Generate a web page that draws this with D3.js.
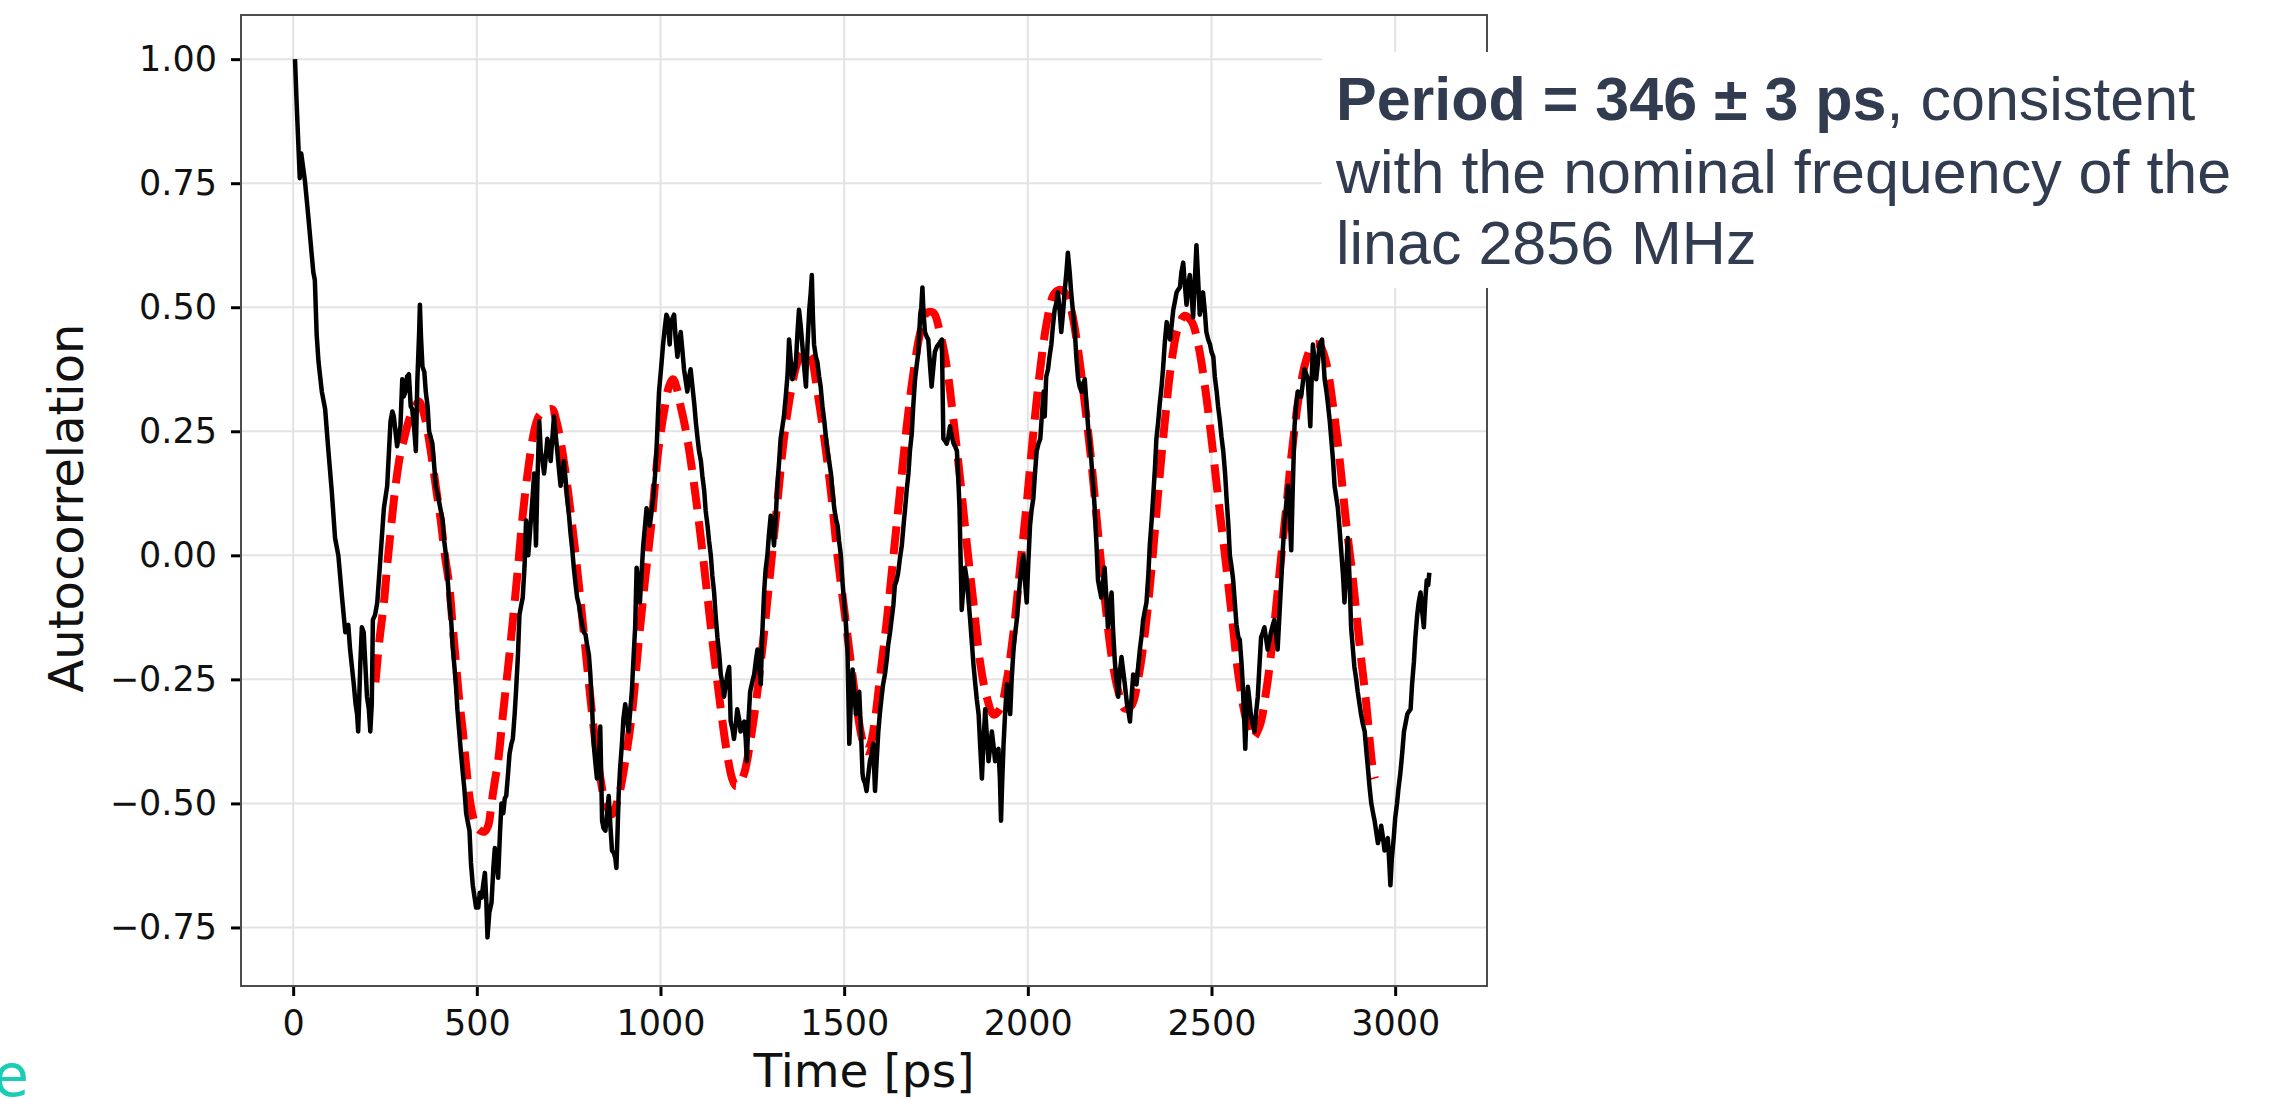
<!DOCTYPE html>
<html>
<head>
<meta charset="utf-8">
<script src="https://cdn.jsdelivr.net/npm/d3@7.9.0/dist/d3.min.js"></script>
<style>
  html, body { margin: 0; padding: 0; background: #fff; }
  svg { display: block; }
</style>
</head>
<body>
<script>
// ─── DATA ────────────────────────────────────────────────────────────────────
const blackTime = [
  5, 9, 14, 18, 22, 32, 41, 50, 55, 59, 64, 69, 78, 87, 96, 105, 114, 123, 133, 142,
  150, 155, 165, 170, 174, 177, 183, 187, 192, 201, 206, 210, 214, 217, 223, 229, 238, 247, 256, 265,
  270, 274, 283, 292, 297, 301, 306, 310, 315, 320, 324, 330, 334, 338, 343, 345, 348, 352, 357, 361,
  366, 370, 379, 384, 388, 393, 398, 407, 411, 416, 425, 430, 434, 443, 447, 452, 457, 462, 466, 471,
  476, 480, 484, 489, 494, 498, 504, 508, 513, 518, 522, 526, 529, 534, 540, 545, 549, 554, 558, 563,
  567, 572, 576, 580, 585, 589, 594, 598, 603, 607, 612, 616, 621, 625, 630, 634, 637, 640, 644, 647,
  652, 656, 661, 665, 670, 674, 679, 683, 688, 692, 697, 701, 706, 710, 715, 719, 724, 728, 733, 737,
  742, 746, 751, 755, 760, 764, 769, 773, 778, 782, 787, 791, 796, 800, 805, 809, 814, 818, 823, 827,
  832, 836, 841, 845, 850, 855, 859, 864, 868, 873, 877, 880, 883, 886, 890, 895, 899, 904, 909, 913,
  918, 922, 927, 931, 935, 940, 944, 949, 953, 958, 962, 967, 971, 976, 980, 985, 989, 993, 996, 1002,
  1007, 1012, 1016, 1019, 1025, 1028, 1034, 1037, 1041, 1046, 1050, 1055, 1060, 1064, 1069, 1073, 1078, 1082, 1087, 1092,
  1096, 1101, 1105, 1110, 1114, 1119, 1123, 1128, 1132, 1137, 1141, 1146, 1150, 1155, 1160, 1164, 1169, 1173, 1178, 1182,
  1187, 1191, 1196, 1200, 1205, 1209, 1214, 1218, 1223, 1228, 1232, 1235, 1239, 1244, 1250, 1255, 1260, 1264, 1268, 1273,
  1277, 1282, 1286, 1291, 1295, 1300, 1305, 1309, 1314, 1318, 1323, 1327, 1332, 1336, 1341, 1346, 1350, 1355, 1359, 1364,
  1368, 1373, 1377, 1382, 1386, 1391, 1396, 1400, 1405, 1409, 1412, 1415, 1418, 1423, 1427, 1432, 1436, 1441, 1446, 1450,
  1455, 1459, 1464, 1468, 1473, 1477, 1482, 1486, 1491, 1495, 1500, 1505, 1509, 1514, 1518, 1523, 1527, 1532, 1537, 1541,
  1546, 1550, 1552, 1557, 1561, 1566, 1570, 1575, 1579, 1584, 1588, 1593, 1597, 1602, 1606, 1611, 1616, 1620, 1625, 1629,
  1634, 1638, 1643, 1647, 1652, 1657, 1661, 1666, 1670, 1675, 1679, 1684, 1688, 1693, 1697, 1702, 1707, 1710, 1713, 1716,
  1720, 1725, 1729, 1734, 1738, 1743, 1747, 1752, 1757, 1762, 1766, 1770, 1775, 1779, 1784, 1788, 1793, 1798, 1802, 1807,
  1811, 1814, 1820, 1825, 1829, 1834, 1838, 1843, 1848, 1852, 1857, 1861, 1866, 1870, 1875, 1879, 1884, 1888, 1893, 1897,
  1902, 1906, 1911, 1915, 1920, 1924, 1927, 1930, 1934, 1938, 1943, 1947, 1952, 1956, 1961, 1965, 1970, 1974, 1979, 1983,
  1988, 1992, 1997, 2001, 2006, 2010, 2015, 2019, 2024, 2029, 2034, 2038, 2043, 2046, 2050, 2055, 2059, 2064, 2068, 2073,
  2078, 2082, 2087, 2091, 2096, 2100, 2105, 2109, 2114, 2118, 2123, 2128, 2132, 2137, 2141, 2146, 2150, 2155, 2160, 2164,
  2169, 2173, 2178, 2182, 2187, 2191, 2196, 2200, 2205, 2209, 2214, 2218, 2223, 2228, 2232, 2237, 2241, 2246, 2250, 2255,
  2260, 2264, 2270, 2275, 2278, 2283, 2287, 2291, 2296, 2301, 2305, 2310, 2314, 2319, 2323, 2328, 2332, 2337, 2341, 2346,
  2350, 2355, 2359, 2364, 2368, 2373, 2378, 2382, 2387, 2391, 2396, 2400, 2405, 2409, 2414, 2418, 2423, 2427, 2432, 2436,
  2441, 2446, 2450, 2455, 2459, 2464, 2468, 2473, 2477, 2482, 2486, 2491, 2496, 2500, 2505, 2509, 2514, 2518, 2523, 2527,
  2532, 2537, 2541, 2546, 2550, 2555, 2559, 2564, 2568, 2573, 2577, 2582, 2585, 2589, 2592, 2596, 2599, 2603, 2607, 2612,
  2617, 2621, 2626, 2630, 2635, 2640, 2644, 2649, 2653, 2658, 2662, 2667, 2671, 2676, 2680, 2685, 2690, 2694, 2699, 2703,
  2708, 2713, 2717, 2721, 2726, 2730, 2735, 2740, 2744, 2749, 2753, 2758, 2762, 2766, 2769, 2772, 2776, 2781, 2785, 2790,
  2794, 2801, 2805, 2808, 2813, 2817, 2822, 2826, 2831, 2835, 2840, 2844, 2849, 2853, 2858, 2862, 2867, 2871, 2876, 2880,
  2885, 2889, 2894, 2898, 2903, 2907, 2912, 2917, 2921, 2926, 2930, 2935, 2940, 2944, 2949, 2953, 2958, 2962, 2967, 2971,
  2976, 2980, 2984, 2987, 2991, 2996, 3000, 3005, 3009, 3014, 3019, 3024, 3028, 3033, 3037, 3042, 3046, 3051, 3055, 3060,
  3064, 3069, 3073, 3078, 3082, 3086, 3090, 3093
];
const blackValue = [
  1.00, 0.92, 0.83, 0.76, 0.81, 0.755, 0.685, 0.61, 0.57, 0.555, 0.445, 0.39, 0.33, 0.295, 0.21, 0.13, 0.035, 0.0, -0.085, -0.155,
  -0.14, -0.19, -0.26, -0.30, -0.32, -0.355, -0.215, -0.145, -0.155, -0.285, -0.31, -0.355, -0.30, -0.13, -0.12, -0.095, 0.0, 0.095, 0.14, 0.27,
  0.29, 0.28, 0.22, 0.26, 0.355, 0.32, 0.33, 0.36, 0.365, 0.30, 0.295, 0.25, 0.21, 0.35, 0.45, 0.505, 0.44, 0.38, 0.37, 0.33,
  0.30, 0.25, 0.225, 0.18, 0.14, 0.125, 0.105, 0.07, 0.03, 0.0, -0.095, -0.13, -0.18, -0.26, -0.31, -0.355, -0.40, -0.44, -0.47, -0.52,
  -0.54, -0.555, -0.62, -0.665, -0.69, -0.71, -0.71, -0.68, -0.69, -0.66, -0.64, -0.70, -0.77, -0.72, -0.70, -0.63, -0.59, -0.62, -0.65, -0.56,
  -0.50, -0.52, -0.49, -0.485, -0.44, -0.40, -0.38, -0.37, -0.32, -0.27, -0.20, -0.12, -0.10, -0.085, -0.02, 0.07, 0.03, 0.0, 0.04, 0.07,
  0.12, 0.165, 0.02, 0.15, 0.27, 0.21, 0.19, 0.165, 0.20, 0.235, 0.22, 0.19, 0.24, 0.28, 0.24, 0.21, 0.17, 0.14, 0.16, 0.19,
  0.15, 0.115, 0.08, 0.045, 0.01, -0.025, -0.06, -0.085, -0.10, -0.12, -0.14, -0.155, -0.16, -0.18, -0.20, -0.24, -0.31, -0.38, -0.42, -0.45,
  -0.40, -0.345, -0.535, -0.55, -0.555, -0.52, -0.485, -0.55, -0.595, -0.60, -0.61, -0.63, -0.56, -0.485, -0.43, -0.38, -0.33, -0.30, -0.33, -0.355,
  -0.31, -0.275, -0.20, -0.145, -0.025, -0.06, -0.095, -0.03, 0.02, 0.06, 0.095, 0.08, 0.06, 0.09, 0.115, 0.16, 0.21, 0.28, 0.33, 0.38,
  0.425, 0.46, 0.485, 0.48, 0.425, 0.47, 0.48, 0.485, 0.44, 0.40, 0.43, 0.45, 0.41, 0.375, 0.35, 0.33, 0.36, 0.375, 0.34, 0.305,
  0.27, 0.235, 0.21, 0.19, 0.16, 0.13, 0.09, 0.06, 0.03, 0.0, -0.04, -0.075, -0.12, -0.165, -0.20, -0.24, -0.26, -0.285, -0.26, -0.24,
  -0.225, -0.335, -0.35, -0.37, -0.34, -0.31, -0.33, -0.355, -0.34, -0.335, -0.37, -0.415, -0.34, -0.275, -0.255, -0.24, -0.21, -0.19, -0.22, -0.26,
  -0.16, -0.075, -0.03, 0.0, 0.04, 0.08, 0.05, 0.02, 0.08, 0.14, 0.19, 0.235, 0.26, 0.28, 0.32, 0.365, 0.435, 0.39, 0.355, 0.37,
  0.38, 0.45, 0.495, 0.46, 0.425, 0.38, 0.34, 0.42, 0.495, 0.53, 0.565, 0.48, 0.425, 0.40, 0.39, 0.36, 0.34, 0.30, 0.27, 0.24,
  0.21, 0.19, 0.165, 0.13, 0.095, 0.075, 0.06, 0.03, 0.0, -0.05, -0.095, -0.14, -0.19, -0.38, -0.30, -0.23, -0.27, -0.32, -0.29, -0.275,
  -0.36, -0.44, -0.45, -0.46, -0.475, -0.44, -0.415, -0.40, -0.38, -0.475, -0.42, -0.355, -0.32, -0.285, -0.26, -0.24, -0.21, -0.18, -0.155, -0.13,
  -0.10, -0.06, -0.05, -0.035, -0.005, 0.02, 0.055, 0.095, 0.13, 0.165, 0.21, 0.245, 0.30, 0.355, 0.38, 0.41, 0.485, 0.50, 0.54, 0.49,
  0.45, 0.44, 0.435, 0.38, 0.34, 0.38, 0.41, 0.42, 0.425, 0.43, 0.435, 0.235, 0.23, 0.225, 0.24, 0.26, 0.24, 0.225, 0.22, 0.21,
  0.15, 0.095, -0.11, -0.06, -0.025, -0.05, -0.085, -0.13, -0.18, -0.22, -0.26, -0.29, -0.32, -0.38, -0.45, -0.38, -0.31, -0.36, -0.415, -0.39,
  -0.355, -0.38, -0.415, -0.40, -0.39, -0.45, -0.535, -0.46, -0.38, -0.32, -0.26, -0.29, -0.32, -0.25, -0.19, -0.16, -0.13, -0.09, -0.05, -0.02,
  0.0, -0.05, -0.095, -0.02, 0.06, 0.09, 0.115, 0.16, 0.21, 0.225, 0.235, 0.28, 0.33, 0.28, 0.36, 0.375, 0.40, 0.425, 0.46, 0.495,
  0.51, 0.53, 0.49, 0.45, 0.49, 0.53, 0.57, 0.61, 0.57, 0.53, 0.49, 0.45, 0.40, 0.355, 0.34, 0.33, 0.345, 0.355, 0.30, 0.26,
  0.22, 0.19, 0.14, 0.095, 0.02, -0.05, -0.07, -0.085, -0.05, -0.025, -0.09, -0.145, -0.11, -0.075, -0.15, -0.215, -0.25, -0.285, -0.24, -0.205,
  -0.235, -0.26, -0.30, -0.32, -0.335, -0.28, -0.24, -0.25, -0.26, -0.22, -0.19, -0.16, -0.13, -0.11, -0.095, -0.04, 0.02, 0.07, 0.115, 0.175,
  0.235, 0.27, 0.305, 0.34, 0.375, 0.43, 0.47, 0.45, 0.435, 0.46, 0.495, 0.51, 0.53, 0.535, 0.54, 0.57, 0.59, 0.55, 0.505, 0.54,
  0.565, 0.52, 0.48, 0.56, 0.625, 0.55, 0.485, 0.51, 0.53, 0.49, 0.45, 0.435, 0.425, 0.41, 0.40, 0.36, 0.33, 0.30, 0.27, 0.24,
  0.21, 0.165, 0.115, 0.06, 0.0, -0.025, -0.05, -0.10, -0.14, -0.165, -0.17, -0.22, -0.26, -0.33, -0.39, -0.30, -0.265, -0.29, -0.32, -0.34,
  -0.355, -0.32, -0.285, -0.23, -0.165, -0.155, -0.145, -0.17, -0.19, -0.17, -0.155, -0.14, -0.13, -0.16, -0.19, -0.12, -0.05, 0.01, 0.07, 0.10,
  0.14, 0.08, 0.01, 0.13, 0.26, 0.30, 0.33, 0.325, 0.32, 0.35, 0.375, 0.365, 0.355, 0.30, 0.26, 0.34, 0.425, 0.39, 0.355, 0.39,
  0.425, 0.435, 0.39, 0.355, 0.33, 0.305, 0.27, 0.235, 0.19, 0.14, 0.115, 0.095, 0.05, 0.01, -0.04, -0.095, -0.03, 0.035, -0.05, -0.145,
  -0.19, -0.225, -0.25, -0.275, -0.30, -0.32, -0.34, -0.355, -0.39, -0.43, -0.465, -0.50, -0.52, -0.535, -0.56, -0.58, -0.565, -0.545, -0.57, -0.595,
  -0.58, -0.57, -0.62, -0.665, -0.61, -0.57, -0.53, -0.50, -0.47, -0.44, -0.40, -0.355, -0.34, -0.32, -0.315, -0.31, -0.26, -0.215, -0.165, -0.12,
  -0.095, -0.075, -0.11, -0.145, -0.09, -0.05, -0.06, -0.035
];

const fitTime = [
  224, 235, 247, 256, 265, 274, 283, 292, 302, 311, 320, 330, 343, 352, 361, 370, 379, 390, 402, 413,
  425, 434, 443, 452, 462, 471, 480, 489, 498, 510, 521, 531, 540, 549, 558, 571, 585, 598, 612, 625,
  638, 652, 661, 670, 688, 706, 715, 724, 742, 760, 778, 796, 814, 832, 850, 868, 886, 904, 922, 940,
  958, 976, 994, 1012, 1023, 1034, 1045, 1055, 1064, 1073, 1092, 1110, 1128, 1146, 1164, 1182, 1195, 1205, 1215, 1228,
  1246, 1264, 1282, 1300, 1318, 1336, 1355, 1373, 1391, 1409, 1427, 1446, 1464, 1482, 1500, 1518, 1537, 1549, 1561, 1572,
  1584, 1597, 1616, 1634, 1652, 1670, 1688, 1707, 1725, 1743, 1761, 1780, 1798, 1816, 1834, 1852, 1870, 1888, 1907, 1925,
  1943, 1961, 1979, 1997, 2015, 2034, 2052, 2070, 2085, 2100, 2118, 2137, 2155, 2173, 2191, 2209, 2228, 2246, 2264, 2282,
  2300, 2319, 2337, 2355, 2373, 2391, 2409, 2427, 2446, 2464, 2482, 2500, 2518, 2537, 2555, 2573, 2594, 2612, 2631, 2649,
  2667, 2685, 2703, 2721, 2740, 2758, 2776, 2794, 2812, 2830, 2848, 2866, 2885, 2903, 2921, 2939, 2945
];
const fitValue = [
  -0.256, -0.17, -0.096, -0.02, 0.046, 0.11, 0.164, 0.205, 0.235, 0.262, 0.282, 0.298, 0.31, 0.295, 0.27, 0.232, 0.188, 0.13, 0.069, 0.0,
  -0.061, -0.14, -0.215, -0.29, -0.356, -0.425, -0.487, -0.525, -0.546, -0.555, -0.557, -0.545, -0.50, -0.455, -0.415, -0.321, -0.226, -0.132, -0.025, 0.081,
  0.164, 0.235, 0.265, 0.282, 0.292, 0.294, 0.275, 0.247, 0.164, 0.058, -0.061, -0.191, -0.321, -0.427, -0.498, -0.522, -0.486, -0.415, -0.321, -0.179,
  -0.049, 0.069, 0.211, 0.30, 0.34, 0.355, 0.335, 0.30, 0.27, 0.235, 0.14, 0.034, -0.084, -0.202, -0.309, -0.403, -0.45, -0.465, -0.46, -0.439,
  -0.368, -0.273, -0.155, -0.025, 0.105, 0.235, 0.33, 0.389, 0.412, 0.40, 0.33, 0.235, 0.128, -0.002, -0.108, -0.215, -0.32, -0.37, -0.395, -0.38,
  -0.33, -0.25, -0.132, -0.002, 0.128, 0.258, 0.365, 0.448, 0.489, 0.489, 0.448, 0.377, 0.27, 0.152, 0.022, -0.096, -0.215, -0.285, -0.321, -0.309,
  -0.25, -0.155, -0.025, 0.105, 0.247, 0.377, 0.471, 0.525, 0.535, 0.53, 0.495, 0.412, 0.306, 0.188, 0.046, -0.084, -0.203, -0.273, -0.309, -0.303,
  -0.25, -0.155, -0.025, 0.128, 0.27, 0.389, 0.459, 0.483, 0.471, 0.424, 0.341, 0.235, 0.117, -0.002, -0.12, -0.24, -0.33, -0.368, -0.344, -0.273,
  -0.167, -0.037, 0.093, 0.223, 0.33, 0.394, 0.424, 0.424, 0.389, 0.306, 0.199, 0.069, -0.049, -0.179, -0.297, -0.43, -0.45
];

const xTicks = [0, 500, 1000, 1500, 2000, 2500, 3000];
const yTicks = [-0.75, -0.5, -0.25, 0, 0.25, 0.5, 0.75, 1.0];

const noteBold = 'Period = 346 ± 3 ps';
const noteLines = [', consistent', 'with the nominal frequency of the', 'linac 2856 MHz'];

// ─── SETUP ───────────────────────────────────────────────────────────────────
const W = 2289, H = 1099;
const FRAME = { left: 241, right: 1487, top: 15, bottom: 986 };

const svg = d3.select('body').append('svg')
  .attr('width', W)
  .attr('height', H)
  .style('font-family', '"DejaVu Sans", sans-serif');

svg.append('rect').attr('width', W).attr('height', H).attr('fill', '#fff');

const x = d3.scaleLinear().domain([-142, 3250]).range([FRAME.left, FRAME.right]);
const y = d3.scaleLinear().domain([-0.868, 1.089]).range([FRAME.bottom, FRAME.top]);

// grid
const grid = svg.append('g');
grid.selectAll('line.gx').data(xTicks).join('line')
  .attr('x1', d => x(d)).attr('x2', d => x(d))
  .attr('y1', FRAME.top).attr('y2', FRAME.bottom)
  .attr('stroke', '#e3e3e3').attr('stroke-width', 2);
grid.selectAll('line.gy').data(yTicks).join('line')
  .attr('y1', d => y(d)).attr('y2', d => y(d))
  .attr('x1', FRAME.left).attr('x2', FRAME.right)
  .attr('stroke', '#e3e3e3').attr('stroke-width', 2);

// lines
const fitLine = d3.line()
  .x((d, i) => x(fitTime[i]))
  .y(d => y(d))
  .curve(d3.curveCatmullRom);

svg.append('path')
  .datum(fitValue)
  .attr('fill', 'none')
  .attr('stroke', '#ff0000')
  .attr('stroke-width', 8)
  .attr('stroke-dasharray', '28 12')
  .attr('d', fitLine);

const dataLine = d3.line()
  .x((d, i) => x(blackTime[i]))
  .y(d => y(d));

svg.append('path')
  .datum(blackValue)
  .attr('fill', 'none')
  .attr('stroke', '#000')
  .attr('stroke-width', 4.5)
  .attr('stroke-linejoin', 'round')
  .attr('d', dataLine);

// axes
const xAxis = svg.append('g')
  .attr('transform', `translate(0,${FRAME.bottom})`)
  .call(d3.axisBottom(x).tickValues(xTicks).tickSize(10).tickPadding(14).tickFormat(d3.format('d')));
const yAxis = svg.append('g')
  .attr('transform', `translate(${FRAME.left},0)`)
  .call(d3.axisLeft(y).tickValues(yTicks).tickSize(10).tickPadding(14).tickFormat(d3.format('.2f')));

[xAxis, yAxis].forEach(a => {
  a.select('.domain').remove();
  a.selectAll('.tick line').attr('stroke', '#000').attr('stroke-width', 3);
  a.selectAll('.tick text')
    .attr('fill', '#111')
    .style('font-size', '35px')
    .style('font-family', '"DejaVu Sans", sans-serif');
});

// frame
svg.append('rect')
  .attr('x', FRAME.left).attr('y', FRAME.top)
  .attr('width', FRAME.right - FRAME.left)
  .attr('height', FRAME.bottom - FRAME.top)
  .attr('fill', 'none')
  .attr('stroke', '#4d4d4d')
  .attr('stroke-width', 2);

// axis labels
svg.append('text')
  .attr('x', (FRAME.left + FRAME.right) / 2)
  .attr('y', 1087)
  .attr('text-anchor', 'middle')
  .attr('fill', '#111')
  .style('font-size', '47px')
  .text('Time [ps]');

svg.append('text')
  .attr('transform', 'translate(83,508) rotate(-90)')
  .attr('text-anchor', 'middle')
  .attr('fill', '#111')
  .style('font-size', '48px')
  .text('Autocorrelation');

// annotation box
svg.append('rect')
  .attr('x', 1322).attr('y', 52)
  .attr('width', W - 1322).attr('height', 236)
  .attr('fill', '#fff');

const note = svg.append('text')
  .attr('x', 1336)
  .attr('y', 120)
  .attr('fill', '#323c50')
  .style('font-family', '"Liberation Sans", Arial, sans-serif')
  .style('font-size', '61px');

note.append('tspan').style('font-weight', 'bold').text(noteBold);
note.append('tspan').text(noteLines[0]);
note.append('tspan').attr('x', 1336).attr('dy', 73).text(noteLines[1]);
note.append('tspan').attr('x', 1336).attr('dy', 71).text(noteLines[2]);

// cut-off footer letter
svg.append('text')
  .attr('x', 29)
  .attr('y', 1096)
  .attr('text-anchor', 'end')
  .attr('fill', '#19cdb6')
  .style('font-size', '58px')
  .text('e');
</script>
</body>
</html>
